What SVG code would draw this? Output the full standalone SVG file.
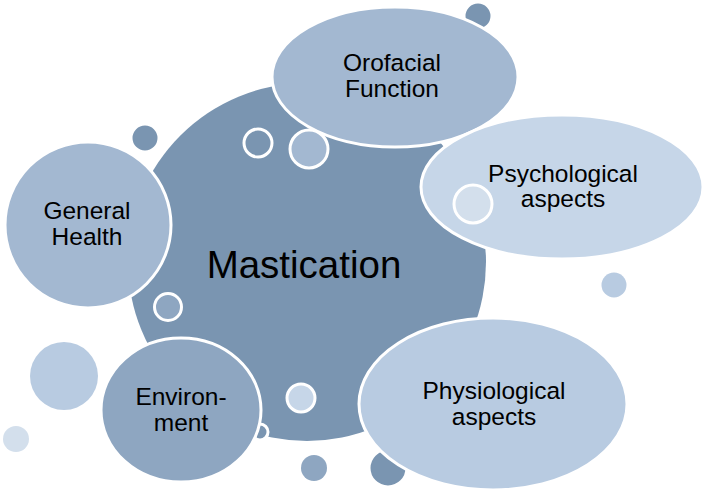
<svg xmlns="http://www.w3.org/2000/svg" width="709" height="494" viewBox="0 0 709 494">
<style>
.w{stroke:#fff;stroke-width:3}
.t{font-family:"Liberation Sans",Arial,sans-serif;font-size:24.5px;fill:#000;text-anchor:middle}
.c1{fill:#7A95B1}
.c2{fill:#A3B8D1}
.c3{fill:#8EA6C1}
.c4{fill:#C6D6E8}
.c5{fill:#B8CBE1}
.c6{fill:#D3DFEC}
</style>
<rect width="709" height="494" fill="#fff"/>
<g id="decor-back">
<circle class="c5" cx="64" cy="376" r="34"/>
<circle class="c6" cx="16" cy="439" r="13"/>
<circle class="c1 w" cx="145" cy="138" r="14"/>
<circle class="c1 w" cx="478" cy="16" r="14"/>
<circle class="c5" cx="614" cy="285" r="12.5"/>
<circle class="c3" cx="314" cy="468" r="13"/>
<circle class="c1 w" cx="388" cy="468" r="19"/>
</g>
<g id="connectors"/>
<g id="mastication">
<circle class="c1" cx="307" cy="262" r="179"/>
<text class="t" x="304" y="278" style="font-size:38.5px">Mastication</text>
</g>
<g id="decor-main">
<circle class="c1 w" cx="258" cy="143" r="14"/>
<circle class="c3 w" cx="168" cy="307" r="13.5"/>
<circle class="c4 w" cx="301" cy="398" r="14"/>
<circle class="c1 w" cx="260" cy="432" r="8"/>
</g>
<g id="orofacial">
<ellipse class="c2 w" cx="395" cy="77" rx="123" ry="70"/>
<text class="t" x="392" y="71">Orofacial</text>
<text class="t" x="392" y="97">Function</text>
</g>
<circle class="c2 w" cx="309" cy="149" r="19"/>
<g id="psychological">
<ellipse class="c4 w" cx="562" cy="187" rx="141" ry="72"/>
<circle class="c6 w" cx="473" cy="204" r="19"/>
<text class="t" x="563" y="182">Psychological</text>
<text class="t" x="563" y="207">aspects</text>
</g>
<g id="general-health">
<circle class="c2 w" cx="88" cy="225" r="83"/>
<text class="t" x="87" y="219">General</text>
<text class="t" x="87" y="245">Health</text>
</g>
<g id="environment">
<ellipse class="c3 w" cx="181" cy="410" rx="80" ry="72"/>
<text class="t" x="181" y="405">Environ-</text>
<text class="t" x="181" y="431">ment</text>
</g>
<g id="physiological">
<ellipse class="c5 w" cx="493" cy="404" rx="134" ry="86"/>
<text class="t" x="494" y="399">Physiological</text>
<text class="t" x="494" y="425">aspects</text>
</g>
</svg>
